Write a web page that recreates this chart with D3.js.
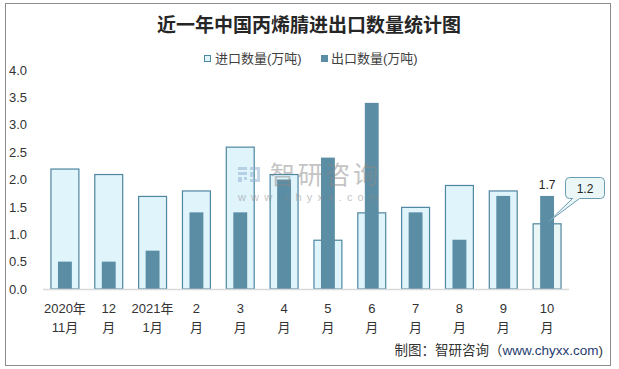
<!DOCTYPE html>
<html><head><meta charset="utf-8">
<script src="https://cdn.jsdelivr.net/npm/d3@7/dist/d3.min.js"></script>
<style>
body{margin:0;background:#fff;}
svg{display:block;font-family:"Liberation Sans","Noto Sans CJK SC",sans-serif;}
</style></head>
<body><svg id="c" width="619" height="369"></svg>
<script>
const categoriesLine1 = ["2020年","12","2021年","2","3","4","5","6","7","8","9","10"];
const categoriesLine2 = ["11月","月","1月","月","月","月","月","月","月","月","月","月"];
const importValues = [2.2,2.1,1.7,1.8,2.6,2.1,0.9,1.4,1.5,1.9,1.8,1.2];
const exportValues = [0.5,0.5,0.7,1.4,1.4,2.0,2.4,3.4,1.4,0.9,1.7,1.7];
const yTicks = [0,0.5,1,1.5,2,2.5,3,3.5,4];
const seriesNames = ["进口数量(万吨)","出口数量(万吨)"];
const title = "近一年中国丙烯腈进出口数量统计图";
const sourceParts = ["制图：智研咨询（","www.chyxx.com",")"];

const svg = d3.select("#c");
const cats = categoriesLine1.map((d,i)=>i);
const x = d3.scaleBand().domain(cats).range([43,569]).paddingInner(0.34).paddingOuter(0.17);
const y = d3.scaleLinear().domain([0,4]).range([289,70]);

// outer border
svg.append("rect").attr("x",5.5).attr("y",3.5).attr("width",605).attr("height",362)
  .attr("fill","#fff").attr("stroke","#8c8c8c").attr("stroke-width",1);

// title
svg.append("text").attr("x",309).attr("y",32).attr("text-anchor","middle")
  .style("font-family","'Noto Sans CJK SC',sans-serif").style("font-weight","bold")
  .style("font-size","19px").attr("fill","#262626").text(title);

// legend
const lg = svg.append("g");
lg.append("rect").attr("x",204.5).attr("y",55.5).attr("width",6).attr("height",6)
  .attr("fill","#dff4fb").attr("stroke","#4f86a0");
lg.append("text").attr("x",215).attr("y",63).style("font-size","13px").attr("fill","#404040").text(seriesNames[0]);
lg.append("rect").attr("x",321).attr("y",55).attr("width",7).attr("height",7).attr("fill","#5b8ea5");
lg.append("text").attr("x",331).attr("y",63).style("font-size","13px").attr("fill","#404040").text(seriesNames[1]);

// y axis labels
const yAxis = d3.axisLeft(y).tickValues(yTicks).tickFormat(d3.format(".1f")).tickSize(0);
const ya = svg.append("g").attr("transform","translate(27,0)").call(yAxis);
ya.select(".domain").remove();
ya.selectAll("text").style("font-size","13px").attr("fill","#333").attr("x",0)
  .style("font-family","'Liberation Sans',sans-serif");

// import bars
svg.append("g").selectAll("rect").data(importValues).join("rect")
  .attr("x",(d,i)=>x(i)+0.5).attr("y",d=>y(d)+0.5)
  .attr("width",x.bandwidth()-1).attr("height",d=>y(0)-y(d)-0.5)
  .attr("fill",(d,i)=>i===importValues.length-1?"#eaf6f6":"#dff4fb")
  .attr("stroke","#4f86a0").attr("stroke-width",1.2);

// export bars
const ew = x.bandwidth()*0.48;
svg.append("g").selectAll("rect").data(exportValues).join("rect")
  .attr("x",(d,i)=>x(i)+x.bandwidth()/2-ew/2).attr("y",d=>y(d))
  .attr("width",ew).attr("height",d=>y(0)-y(d))
  .attr("fill","#5b8ea5");

// x axis line
svg.append("line").attr("x1",43).attr("x2",569).attr("y1",289.5).attr("y2",289.5)
  .attr("stroke","#d9d9d9").attr("stroke-width",1.5);

// x labels
const xl = svg.append("g");
cats.forEach(i=>{
  const cx = x(i)+x.bandwidth()/2;
  xl.append("text").attr("x",cx).attr("y",313).attr("text-anchor","middle")
    .style("font-size","13px").attr("fill","#333").text(categoriesLine1[i]);
  xl.append("text").attr("x",cx).attr("y",332).attr("text-anchor","middle")
    .style("font-size","13px").attr("fill","#333").text(categoriesLine2[i]);
});

// watermark
const wm = svg.append("g").attr("opacity",0.5);
const lc = "#8fb0d2";
wm.append("rect").attr("x",238).attr("y",167).attr("width",9).attr("height",3).attr("fill",lc);
wm.append("rect").attr("x",238).attr("y",172).attr("width",9).attr("height",3).attr("fill",lc);
wm.append("rect").attr("x",238).attr("y",177).attr("width",4).attr("height",5).attr("fill",lc);
wm.append("rect").attr("x",244).attr("y",177).attr("width",3).attr("height",3).attr("fill",lc);
wm.append("rect").attr("x",250).attr("y",167).attr("width",10).attr("height",3).attr("fill",lc);
wm.append("rect").attr("x",257).attr("y",167).attr("width",3).attr("height",15).attr("fill",lc);
wm.append("rect").attr("x",250).attr("y",179).attr("width",10).attr("height",3).attr("fill",lc);
wm.append("rect").attr("x",250).attr("y",172).attr("width",4).attr("height",5).attr("fill",lc);
wm.append("text").attr("x",270).attr("y",184).style("font-family","'Noto Sans CJK SC',sans-serif")
  .style("font-size","25px").attr("fill","#8a8a8a").attr("textLength",108).text("智研咨询");
wm.append("text").attr("x",238).attr("y",201).style("font-size","11px")
  .attr("fill","#8a8a8a").attr("textLength",140).text("www.chyxx.com");

// data label 1.7 on last export bar
const li = exportValues.length-1;
svg.append("text").attr("x",x(li)+x.bandwidth()/2).attr("y",y(exportValues[li])-7)
  .attr("text-anchor","middle").style("font-size","12px").attr("fill","#222").text(exportValues[li].toFixed(1));

// callout for last import value
const px = x(li)+x.bandwidth()/2+2, py = y(importValues[li])-2;
const bx=565.5, by=177.5, bw=39, bh=21;
svg.append("path")
  .attr("d",`M${bx+4},${by} H${bx+bw-4} Q${bx+bw},${by} ${bx+bw},${by+4} V${by+bh-4} Q${bx+bw},${by+bh} ${bx+bw-4},${by+bh} H${bx+14} L${px},${py} L${bx+7},${by+bh} H${bx+4} Q${bx},${by+bh} ${bx},${by+bh-4} V${by+4} Q${bx},${by} ${bx+4},${by} Z`)
  .attr("fill","#ebf7f7").attr("stroke","#6b9bb2").attr("stroke-width",1);
svg.append("text").attr("x",bx+bw/2).attr("y",by+15).attr("text-anchor","middle")
  .style("font-size","12px").attr("fill","#222").text(importValues[li].toFixed(1));

// source
const st = svg.append("text").attr("x",603).attr("y",355).attr("text-anchor","end")
  .style("font-size","13.5px").attr("fill","#333");
st.append("tspan").text(sourceParts[0]);
st.append("tspan").attr("fill","#1f3b70").text(sourceParts[1]);
st.append("tspan").text(sourceParts[2]);
</script></body></html>
